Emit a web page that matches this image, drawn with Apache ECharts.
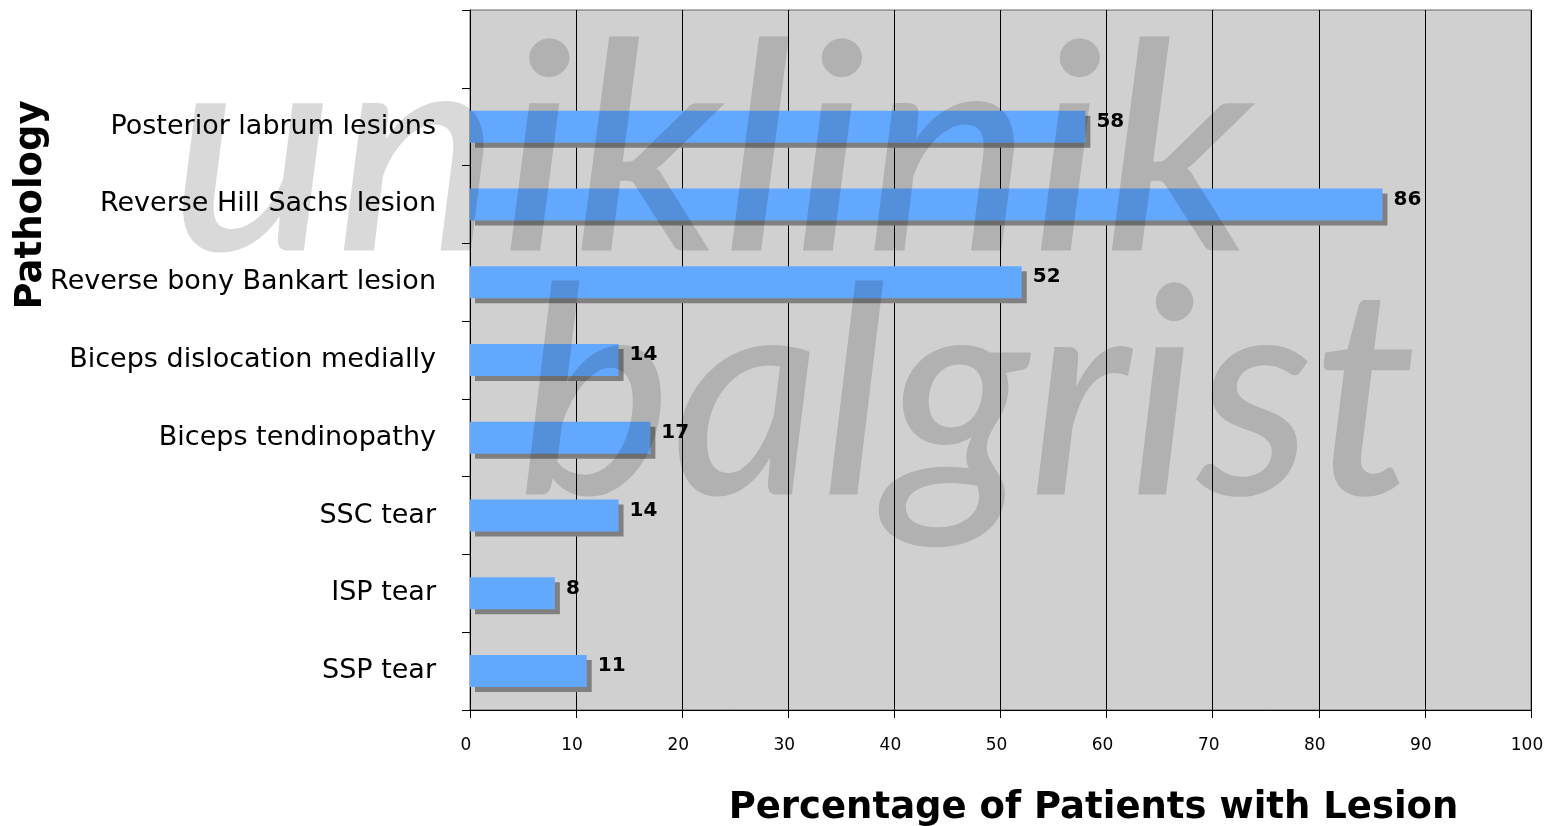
<!DOCTYPE html>
<html>
<head>
<meta charset="utf-8">
<script src="https://cdn.jsdelivr.net/npm/echarts@6/dist/echarts.min.js"></script>
<style>
html,body{margin:0;padding:0;background:#fff;}
#chart{width:1545px;height:826px;}
</style>
</head>
<body>
<div id="chart"></div>
<script>
// Categories bottom-to-top (top slot is empty)
var categories = ['SSP tear', 'ISP tear', 'SSC tear', 'Biceps tendinopathy', 'Biceps dislocation medially', 'Reverse bony Bankart lesion', 'Reverse Hill Sachs lesion', 'Posterior labrum lesions', ''];
var values = [11, 8, 14, 17, 14, 52, 86, 58, null];
var xTicks = [0, 10, 20, 30, 40, 50, 60, 70, 80, 90, 100];
var xTitle = 'Percentage of Patients with Lesion';
var yTitle = 'Pathology';
var watermark1 = 'uniklinik';
var watermark2 = 'balgrist';

var chart = echarts.init(document.getElementById('chart'));
var option = {
  animation: false,
  backgroundColor: '#ffffff',
  grid: {
    left: 470, right: 14, top: 10, bottom: 116,
    outerBoundsMode: 'none', containLabel: false,
    show: true, backgroundColor: '#d0d0d0', borderColor: '#666', borderWidth: 1
  },
  xAxis: {
    type: 'value', min: xTicks[0], max: xTicks[xTicks.length - 1], interval: 10,
    axisLine: { show: true, onZero: false, lineStyle: { color: '#000', width: 1 } },
    axisTick: { show: true, length: 8, lineStyle: { color: '#000' } },
    axisLabel: { color: '#000', fontSize: 17, fontFamily: 'DejaVu Sans', margin: 27, padding: [0, 8, 0, 0] },
    splitLine: { show: true, lineStyle: { color: '#000', width: 1 } },
    name: xTitle, nameLocation: 'middle', nameGap: 80, nameMoveOverlap: false,
    nameTextStyle: { color: '#000', fontSize: 37, fontWeight: 'bold', fontFamily: 'DejaVu Sans', padding: [0, 0, 0, 186] }
  },
  yAxis: {
    type: 'category', data: categories,
    axisLine: { show: true, lineStyle: { color: '#000', width: 1 } },
    axisTick: { show: true, length: 8, lineStyle: { color: '#000' } },
    axisLabel: { color: '#000', fontSize: 27, fontFamily: 'DejaVu Sans', margin: 34 },
    splitLine: { show: false },
    name: yTitle, nameLocation: 'middle', nameGap: 420, nameRotate: 90, nameMoveOverlap: false,
    nameTextStyle: { color: '#000', fontSize: 37, fontWeight: 'bold', fontFamily: 'DejaVu Sans', padding: [0, 0, 0, 310] }
  },
  series: [{
    type: 'bar', data: values, barWidth: 32,
    itemStyle: {
      color: '#63a8ff',
      shadowColor: '#808080', shadowBlur: 0, shadowOffsetX: 5, shadowOffsetY: 5
    },
    label: {
      show: true, position: 'right', distance: 11, offset: [0, -5],
      color: '#000', fontSize: 20, fontWeight: 'bold', fontFamily: 'DejaVu Sans'
    }
  }],
  graphic: [
    { type: 'text', left: 170, top: 12, z: 100, silent: true, scaleX: 1.07,
      style: { text: watermark1, font: 'italic 500 290px "Lato"', fill: 'rgba(0,0,0,0.15)' } },
    { type: 'text', left: 518, top: 256, z: 100, silent: true,
      style: { text: watermark2, font: 'italic 500 290px "Lato"', fill: 'rgba(0,0,0,0.15)' } }
  ]
};
chart.setOption(option);
</script>
</body>
</html>
